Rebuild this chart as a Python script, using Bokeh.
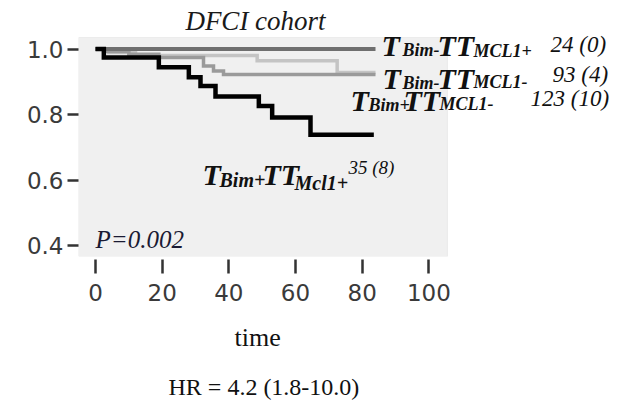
from bokeh.plotting import figure
from bokeh.models import Label, FixedTicker, Range1d, PrintfTickFormatter, BoxAnnotation, Title
from bokeh.embed import file_html
from bokeh.resources import INLINE

# ---- data ----
time_bimneg_mcl1pos = [0, 84]
surv_bimneg_mcl1pos = [1.0, 1.0]

time_bimneg_mcl1neg = [0, 4, 12, 48.5, 72.5, 84]
surv_bimneg_mcl1neg = [1.0, 0.989, 0.980, 0.964, 0.928, 0.928]

time_bimpos_mcl1neg = [0, 3, 10, 19, 32.4, 35.4, 38.4, 84]
surv_bimpos_mcl1neg = [1.0, 0.992, 0.984, 0.974, 0.948, 0.933, 0.922, 0.922]

time_bimpos_mcl1pos = [0, 2.5, 19, 28, 31.5, 36, 49, 53, 64.5, 83.5]
surv_bimpos_mcl1pos = [1.0, 0.974, 0.944, 0.914, 0.887, 0.855, 0.826, 0.791, 0.738, 0.738]

x_ticks = [0, 20, 40, 60, 80, 100]
y_ticks = [0.4, 0.6, 0.8, 1.0]

# plotting box limits (data units)
BOX_X0, BOX_X1 = -5.1, 105.6
BOX_Y0, BOX_Y1 = 0.366, 1.035

FL, FT, FW, FH = 78, 0, 534, 256
TOTAL_H = 398
PXU_X = 3.3333
PXU_Y = 327.5
X0 = BOX_X0
X1 = X0 + FW / PXU_X
Y1 = 1.0 + 48.5 / PXU_Y
Y0 = Y1 - FH / PXU_Y

p = figure(frame_width=FW, frame_height=FH,
           min_border_left=FL, min_border_top=FT,
           min_border_right=0, min_border_bottom=TOTAL_H - FT - FH,
           x_range=Range1d(X0, X1), y_range=Range1d(Y0, Y1),
           output_backend="svg", toolbar_location=None, tools="")

p.background_fill_color = "white"
p.border_fill_color = "white"
p.outline_line_color = None
p.grid.visible = False

p.add_layout(BoxAnnotation(left=BOX_X0, right=BOX_X1, bottom=Y0, top=BOX_Y1,
                           fill_color="#f0f0f0", fill_alpha=1.0,
                           line_color="#d2d2d2", line_width=1, level="underlay"))

# axes
xa = p.xaxis[0]
xa.ticker = FixedTicker(ticks=x_ticks)
xa.axis_line_color = None
xa.major_tick_in = -3
xa.major_tick_out = 17
xa.major_tick_line_width = 2.5
xa.major_tick_line_color = "#333333"
xa.minor_tick_line_color = None
xa.major_label_standoff = 10
xa.major_label_text_font = "DejaVu Sans"
xa.major_label_text_font_size = "23px"
xa.major_label_text_color = "#3a3a3a"

ya = p.yaxis[0]
ya.ticker = FixedTicker(ticks=y_ticks)
ya.formatter = PrintfTickFormatter(format="%.1f")
ya.axis_line_color = None
ya.major_tick_in = 0
ya.major_tick_out = 11
ya.major_tick_line_width = 2.5
ya.major_tick_line_color = "#333333"
ya.minor_tick_line_color = None
ya.major_label_standoff = 4
ya.major_label_text_font = "DejaVu Sans"
ya.major_label_text_font_size = "23px"
ya.major_label_text_color = "#3a3a3a"

# curves
p.step(time_bimneg_mcl1neg, surv_bimneg_mcl1neg, mode="after",
       line_color="#c4c4c4", line_width=3.5, line_join="miter")
p.step(time_bimpos_mcl1neg, surv_bimpos_mcl1neg, mode="after",
       line_color="#9a9a9a", line_width=3.5, line_join="miter")
p.step(time_bimneg_mcl1pos, surv_bimneg_mcl1pos, mode="after",
       line_color="#6f6f6f", line_width=4, line_join="miter")
p.step(time_bimpos_mcl1pos, surv_bimpos_mcl1pos, mode="after",
       line_color="#000000", line_width=4.5, line_join="miter")

DY = -8  # empirical baseline correction


def sx(px):
    return X0 + (px - FL) / PXU_X


def sy(py):
    return Y1 - (py + DY - FT) / PXU_Y


def lab(text, px, py, size, style="bold italic", align="left", color="#111111"):
    p.add_layout(Label(x=sx(px), y=sy(py), text=text,
                       text_font="Liberation Serif", text_font_style=style,
                       text_font_size=f"{size}px", text_align=align,
                       text_baseline="alphabetic", text_color=color))


BIG, SUB = 30, 18
# row 1
lab("T", 381, 53, BIG)
lab("Bim-", 402, 57, SUB)
lab("TT", 437, 53, BIG)
lab("MCL1+", 473, 58, SUB)
lab("24 (0)", 550, 52, 23, style="italic")
# row 2
lab("T", 382, 86, BIG)
lab("Bim-", 402, 90, SUB)
lab("TT", 437, 86, BIG)
lab("MCL1-", 473, 89, SUB)
lab("93 (4)", 552, 82, 23, style="italic")
# row 3
lab("T", 350, 108, BIG)
lab("Bim+", 368, 112, SUB)
lab("TT", 403, 108, BIG)
lab("MCL1-", 439, 111, SUB)
lab("123 (10)", 530, 106, 23, style="italic")
# row 4
lab("T", 202, 182, BIG)
lab("Bim+", 219, 187, 20)
lab("TT", 262, 182, BIG)
lab("Mcl1+", 294, 190, 20)
lab("35 (8)", 348, 175, 19, style="italic")

# other texts inside the frame
lab("DFCI cohort", 255, 28, 27, style="italic", align="center", color="#1a1a1a")
lab("P=0.002", 95, 247, 25, style="italic", color="#1a1a33")

# texts below the axis
p.add_layout(Title(text="time", align="left", offset=234 - FL,
                   text_font="Liberation Serif", text_font_style="normal",
                   text_font_size="26px", text_color="#111111", standoff=35), "below")
p.add_layout(Title(text="HR = 4.2 (1.8-10.0)", align="left", offset=168 - FL,
                   text_font="Liberation Serif", text_font_style="normal",
                   text_font_size="24px", text_color="#111111", standoff=5), "below")

open("out.html", "w").write(file_html(p, INLINE))
